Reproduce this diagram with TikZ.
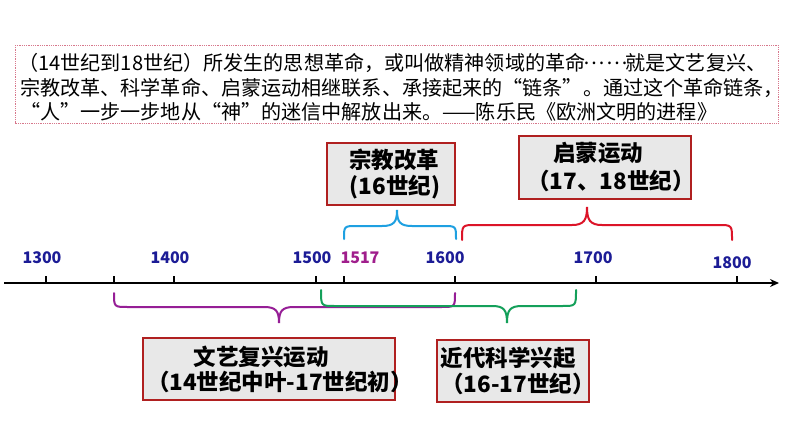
\documentclass[tikz,border=0pt]{standalone}
\usepackage{fontspec}
\setmainfont{Noto Sans CJK SC}
\newfontfamily\cjk{Noto Sans CJK SC}
\newcommand\zhoq{\makebox[1em][r]{“}}
\newcommand\zhcq{\makebox[1em][l]{”}}
\newcommand\zhell{\makebox[2em][c]{\raisebox{0.3em}{…\kern0.05em…}}}
\usetikzlibrary{arrows.meta}
\definecolor{yearblue}{RGB}{28,28,150}
\definecolor{yearpurple}{RGB}{160,30,140}
\definecolor{boxred}{RGB}{176,32,32}
\definecolor{boxfill}{RGB}{232,232,232}
\definecolor{quoteborder}{RGB}{215,120,140}
\definecolor{bblue}{RGB}{30,160,225}
\definecolor{bred}{RGB}{220,20,40}
\definecolor{bpurple}{RGB}{150,30,150}
\definecolor{bgreen}{RGB}{20,160,90}
\tikzset{
  quoteline/.style={anchor=west,inner sep=0pt,font=\cjk\fontsize{20.1}{24}\selectfont},
  year/.style={inner sep=0pt,font=\cjk\bfseries\fontsize{16}{18}\selectfont,text=yearblue},
  labelbox/.style={draw=boxred,fill=boxfill,line width=2pt,inner sep=0pt},
  labeltext/.style={inner sep=0pt,font=\cjk\bfseries\fontsize{22.5}{26}\selectfont},
  brace/.style={line width=2pt,line cap=round},
  tick/.style={line width=1.5pt}
}
\begin{document}
\begin{tikzpicture}[x=1pt,y=-1pt]
\useasboundingbox (0,0) rectangle (794,447);
\fill[white] (0,0) rectangle (794,447);
% quote box
\draw[quoteborder,line width=0.8pt,dash pattern=on 0.9pt off 0.9pt] (15,45) rectangle (778,123);
\node[quoteline] (q1) at (18,63) {（14世纪到18世纪）所发生的思想革命，或叫做精神领域的革命\zhell 就是文艺复兴、};
\node[quoteline] (q2) at (20,88) {宗教改革、科学革命、启蒙运动相继联系、承接起来的\zhoq 链条\zhcq 。通过这个革命链条，};
\node[quoteline] (q3) at (20,112) {\zhoq 人\zhcq 一步一步地从\zhoq 神\zhcq 的迷信中解放出来。——陈乐民《欧洲文明的进程》};
% axis
\coordinate (a0) at (4,283);
\coordinate (a1) at (779,283);
\draw[line width=2.5pt,-{Stealth[length=9pt,width=8pt]}] (a0) -- (a1);
\foreach \x in {46,114,174,316,344,455,596,737}{
  \draw[tick] (\x,283) -- (\x,276);
}
% year labels
\node[year] (y1300) at (42,258) {1300};
\node[year] (y1400) at (170,258) {1400};
\node[year] (y1500) at (312,258) {1500};
\node[year,text=yearpurple] (y1517) at (360,258) {1517};
\node[year] (y1600) at (445,258) {1600};
\node[year] (y1700) at (593,258) {1700};
\node[year] (y1800) at (732,263) {1800};
% braces above
\draw[brace,bblue] (344,239) .. controls (344,226) .. (357,226) -- (382,226) .. controls (394,226) and (397,222) .. (397,210) .. controls (397,222) and (400,226) .. (412,226) -- (443,226) .. controls (456,226) .. (456,239);
\draw[brace,bred] (462,240) .. controls (462,225) .. (476,225) -- (572,225) .. controls (584,225) and (587,220) .. (587,207) .. controls (587,220) and (590,225) .. (602,225) -- (718,225) .. controls (732,225) .. (732,240);
% braces below
\draw[brace,bpurple] (114,293) .. controls (114,307) .. (128,307) -- (264,307) .. controls (276,307) and (279,311) .. (279,323) .. controls (279,311) and (282,307) .. (294,307) -- (441,307) .. controls (455,307) .. (455,293);
\draw[brace,bgreen] (321,290) .. controls (321,306) .. (335,306) -- (492,306) .. controls (504,306) and (507,310) .. (507,323) .. controls (507,310) and (510,306) .. (522,306) -- (562,306) .. controls (576,306) .. (576,290);
% label boxes
\node[labelbox,minimum width=128pt,minimum height=62pt] (bzj) at (391,174) {};
\node[labeltext] (tzj1) at (394,160) {宗教改革};
\node[labeltext] (tzj2) at (395,187) {(16世纪)};
\node[labelbox,minimum width=172pt,minimum height=63pt] (bqm) at (605,167.5) {};
\node[labeltext] (tqm1) at (598,153) {启蒙运动};
\node[labeltext] (tqm2) at (611,181) {（17、18世纪）};
\node[labelbox,minimum width=252pt,minimum height=62pt] (bwy) at (269,369) {};
\node[labeltext] (twy1) at (261,357) {文艺复兴运动};
\node[labeltext] (twy2) at (280,382) {（14世纪中叶-17世纪初）};
\node[labelbox,minimum width=152pt,minimum height=62pt] (bkx) at (513,371) {};
\node[labeltext] (tkx1) at (508,358) {近代科学兴起};
\node[labeltext] (tkx2) at (518,384) {（16-17世纪）};
\end{tikzpicture}
\end{document}
